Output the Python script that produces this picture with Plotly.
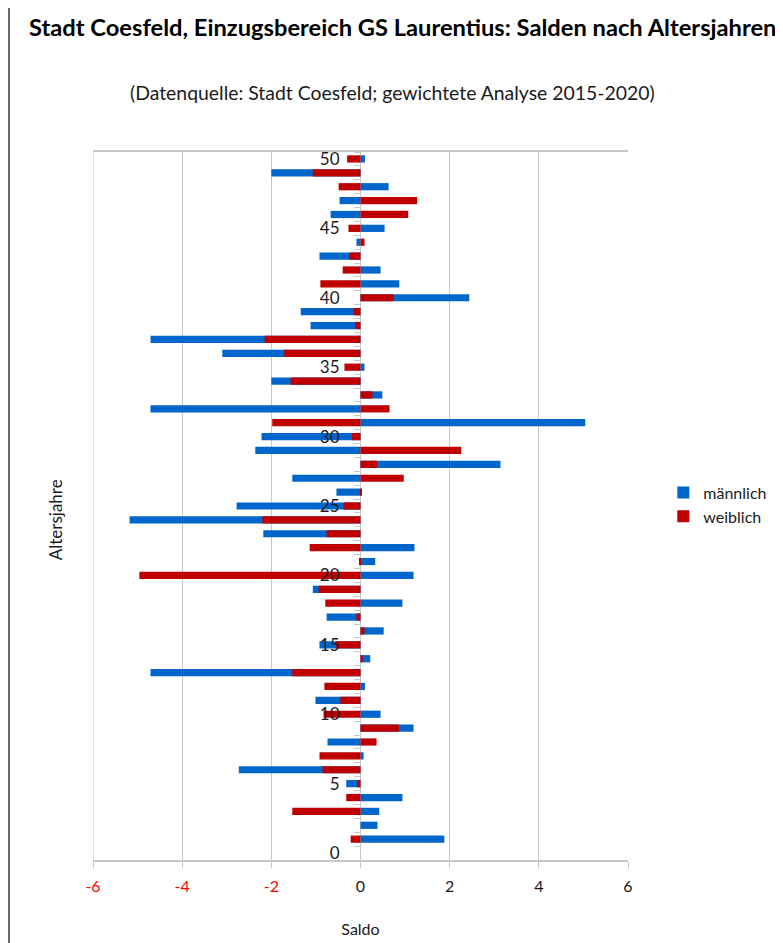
import plotly.graph_objects as go

# Altersjahre 0..50, Salden (gewichtete Analyse 2015-2020)
alter = list(range(51))
maennlich = [None, 1.88, 0.38, 0.42, 0.94, -0.32, -2.73, 0.07, -0.74, 1.19,
             0.45, -1.01, 0.10, -4.71, 0.22, -0.92, 0.52, -0.76, 0.94, -1.07,
             1.19, 0.33, 1.21, -2.18, -5.18, -2.78, -0.54, -1.53, 3.14, -2.36,
             -2.22, 5.04, -4.71, 0.49, -2.00, 0.09, -3.10, -4.71, -1.12, -1.34,
             2.44, 0.87, 0.45, -0.92, -0.09, 0.54, -0.67, -0.47, 0.63, -2.00,
             0.10]
weiblich = [None, -0.22, 0.0, -1.53, -0.32, -0.08, -0.85, -0.92, 0.36, 0.86,
            -0.83, -0.45, -0.81, -1.53, 0.05, -0.55, 0.09, -0.09, -0.79, -0.94,
            -4.96, -0.02, -1.14, -0.76, -2.20, -0.38, 0.02, 0.97, 0.37, 2.26,
            -0.19, -1.98, 0.65, 0.27, -1.57, -0.36, -1.71, -2.15, -0.12, -0.15,
            0.74, -0.90, -0.40, -0.25, 0.09, -0.27, 1.07, 1.27, -0.49, -1.07,
            -0.30]

x_ticks = [-6, -4, -2, 0, 2, 4, 6]
y_ticks = list(range(0, 51, 5))
grenzen = [a - 0.5 for a in alter] + [alter[-1] + 0.5]

BLAU = "#0066cc"
ROT = "#c00000"
GRAU = "#c8c8c8"
FONT = "Lato"

x_ticktext = [f'<span style="color:#ff0000">{v}</span>' if v < 0 else str(v)
              for v in x_ticks]

fig = go.Figure()
fig.add_trace(go.Bar(y=alter, x=maennlich, orientation="h", name="männlich",
                     marker=dict(color=BLAU, line_width=0), width=0.52))
fig.add_trace(go.Bar(y=alter, x=weiblich, orientation="h", name="weiblich",
                     marker=dict(color=ROT, line_width=0), width=0.52))

# Seite hat 8px body-Rand -> Figur 775x935
fig.update_layout(
    width=775, height=935,
    margin=dict(l=85, r=155, t=144, b=83, autoexpand=False),
    paper_bgcolor="white", plot_bgcolor="white",
    barmode="overlay",
    font=dict(family=FONT, size=16, color="#1a1a1a"),
    showlegend=True,
    legend=dict(x=1.066, y=0.502, xanchor="left", yanchor="middle",
                font=dict(size=16), itemwidth=30, tracegroupgap=0,
                bgcolor="rgba(0,0,0,0)"),
    xaxis=dict(range=[-6, 6], tickmode="array", tickvals=x_ticks,
               ticktext=x_ticktext, showgrid=True, gridcolor=GRAU,
               gridwidth=1, zeroline=True, zerolinecolor=GRAU,
               zerolinewidth=1, showline=True, linecolor=GRAU,
               linewidth=2, mirror=True, ticks="outside", ticklen=6,
               tickcolor=GRAU, tickfont=dict(size=16), fixedrange=True,
               automargin=False, ticklabelstandoff=5,
               title=dict(text="Saldo", font=dict(size=16), standoff=30)),
    yaxis=dict(range=[-0.5, 50.5], tickmode="array", tickvals=y_ticks,
               showgrid=False, zeroline=False, showline=False,
               anchor="free", position=0.5, ticks="", automargin=False,
               ticklabelstandoff=21, tickfont=dict(size=17, color="#1a1a1a"),
               minor=dict(tickmode="array", tickvals=grenzen,
                          ticks="outside", ticklen=7, tickcolor=GRAU,
                          showgrid=False)),
    yaxis2=dict(range=[-0.5, 50.5], overlaying="y", anchor="free",
                position=0.5, side="left", showgrid=False, zeroline=False,
                showline=False, showticklabels=False, ticks="",
                automargin=False, tickmode="array", tickvals=y_ticks,
                minor=dict(tickmode="array", tickvals=grenzen,
                           ticks="inside", ticklen=7, tickcolor=GRAU,
                           showgrid=False)),
)

# linke Gitterlinie / Plotrahmen
fig.add_shape(type="line", xref="x", yref="paper", x0=-6, x1=-6, y0=0, y1=1,
              line=dict(color=GRAU, width=1))

# Diagrammrahmen (oben, rechts und unten abgeschnitten)
fig.add_shape(type="rect", xref="paper", yref="paper",
              x0=-0.1570, x1=1.6, y0=-0.3, y1=1.3,
              line=dict(color="#3a3a3a", width=1.5), layer="below")

fig.add_annotation(text="<b>Stadt Coesfeld, Einzugsbereich GS Laurentius: Salden nach Altersjahren</b>",
                   xref="paper", yref="paper", x=-0.1234, y=1.1766,
                   xanchor="left", yanchor="middle", showarrow=False,
                   font=dict(size=23.7, color="#000000"))
fig.add_annotation(text="(Datenquelle: Stadt Coesfeld; gewichtete Analyse 2015-2020)",
                   xref="paper", yref="paper", x=0.559, y=1.0847,
                   xanchor="center", yanchor="middle", showarrow=False,
                   font=dict(size=19.4, color="#1a1a1a"))
fig.add_annotation(text="Altersjahre", xref="paper", yref="paper",
                   x=-0.071, y=0.48, xanchor="center", yanchor="middle",
                   textangle=-90, showarrow=False, font=dict(size=17))

fig.write_html("out.html")
